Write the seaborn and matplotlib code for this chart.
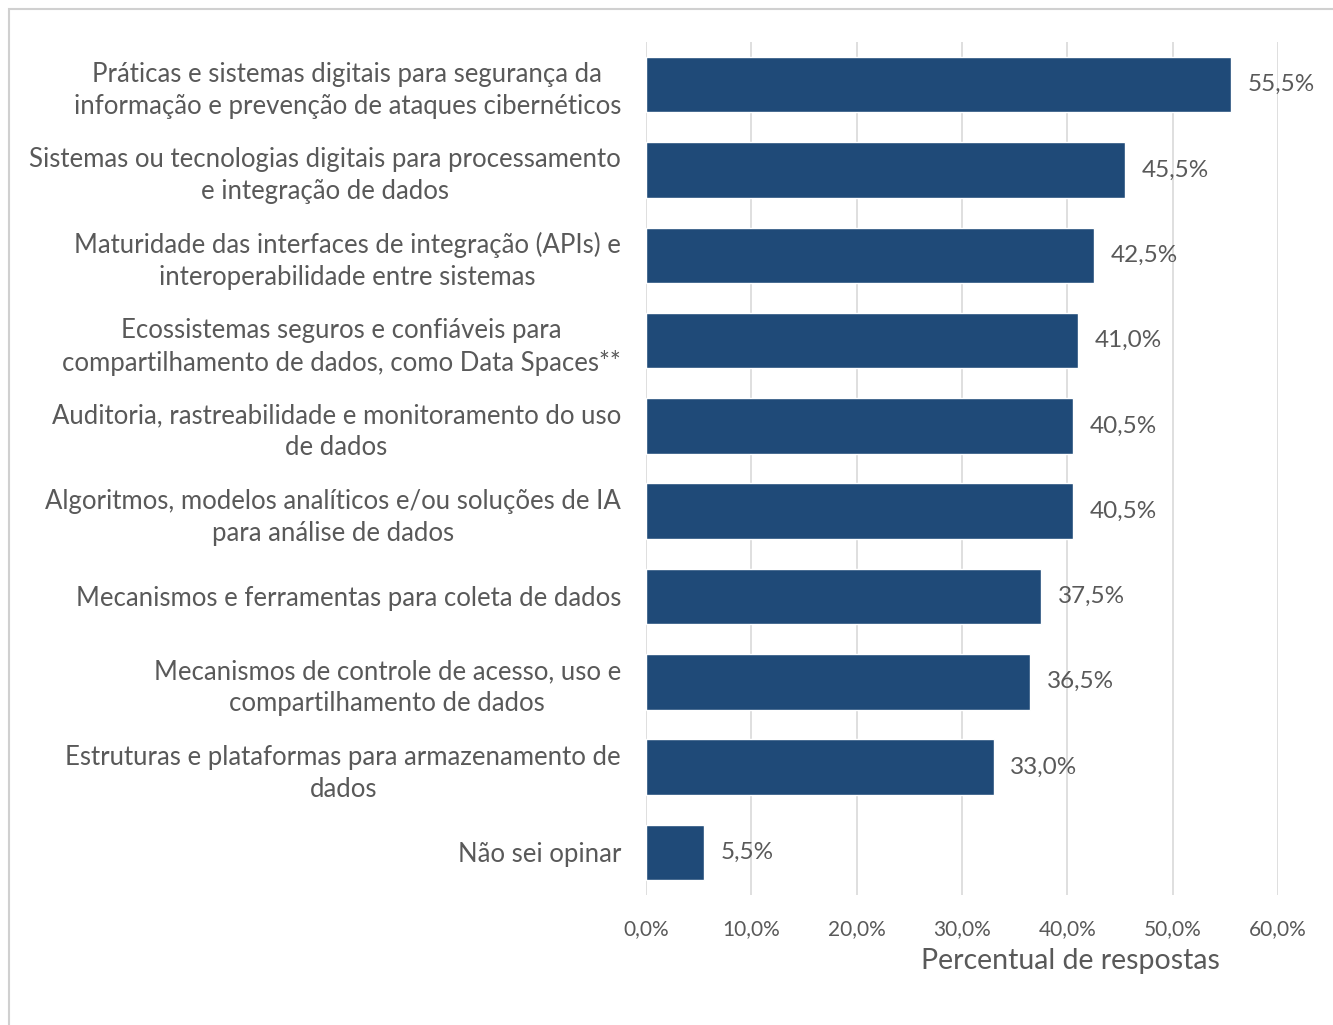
import matplotlib
matplotlib.use("Agg")
import matplotlib.pyplot as plt
import seaborn as sns
import pandas as pd
from matplotlib.patches import Rectangle

categories = [
    "Práticas e sistemas digitais para segurança da\ninformação e prevenção de ataques cibernéticos",
    "Sistemas ou tecnologias digitais para processamento\ne integração de dados",
    "Maturidade das interfaces de integração (APIs) e\ninteroperabilidade entre sistemas",
    "Ecossistemas seguros e confiáveis para\ncompartilhamento de dados, como Data Spaces**",
    "Auditoria, rastreabilidade e monitoramento do uso\nde dados",
    "Algoritmos, modelos analíticos e/ou soluções de IA\npara análise de dados",
    "Mecanismos e ferramentas para coleta de dados",
    "Mecanismos de controle de acesso, uso e\ncompartilhamento de dados",
    "Estruturas e plataformas para armazenamento de\ndados",
    "Não sei opinar",
]
values = [55.5, 45.5, 42.5, 41.0, 40.5, 40.5, 37.5, 36.5, 33.0, 5.5]
x_ticks = [0, 10, 20, 30, 40, 50, 60]
x_label = "Percentual de respostas"

BAR = "#1f4a78"
TXT = "#595959"
GRID = "#d9d9d9"

sns.set_theme(style="white")
plt.rcParams["font.family"] = ["Lato", "DejaVu Sans"]

df = pd.DataFrame({"cat": categories, "val": values})

fig = plt.figure(figsize=(13.33, 10.25), dpi=100)
ax = fig.add_axes([0.4846, 0.1268, 0.4741, 0.8322])

sns.barplot(data=df, x="val", y="cat", orient="h", color=BAR,
            saturation=1, width=0.65, ax=ax, zorder=3)

ax.set_xlim(0, 60)
ax.set_ylim(9.5, -0.5)
ax.set_xticks(x_ticks)
ax.set_xticklabels([f"{t:.1f}%".replace(".", ",") for t in x_ticks],
                   fontsize=15, color=TXT)
ax.tick_params(axis="x", length=0, pad=17)
ax.tick_params(axis="y", length=0, pad=18)
for lab in ax.get_yticklabels():
    lab.set_fontsize(18.5)
    lab.set_color(TXT)
    lab.set_multialignment("center")
    lab.set_linespacing(1.35)

ax.grid(axis="x", color=GRID, linewidth=1.2, zorder=0)
ax.grid(axis="y", visible=False)
for s in ax.spines.values():
    s.set_visible(False)

ax.set_ylabel("")
ax.set_xlabel(x_label, fontsize=20.5, color=TXT)
ax.xaxis.set_label_coords(0.671, -0.062)

for i, v in enumerate(values):
    ax.text(v + 1.6, i, f"{v:.1f}%".replace(".", ","), va="center", ha="left",
            fontsize=17.5, color=TXT, zorder=4)

# light frame around the chart area
fig.patches.append(Rectangle((9 / 1333, -0.01), 1.02, 1 - 9 / 1025 + 0.01,
                             transform=fig.transFigure, fill=False,
                             edgecolor="#d0d0d0", linewidth=1.5))

fig.savefig("out.png", dpi=100, facecolor="white")
